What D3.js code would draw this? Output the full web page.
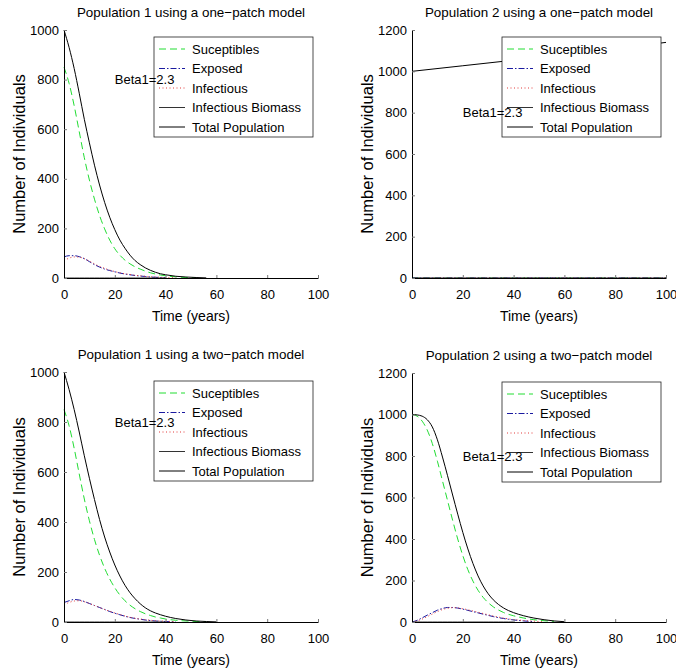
<!DOCTYPE html>
<html>
<head>
<meta charset="utf-8">
<script src="https://cdn.jsdelivr.net/npm/d3@7"></script>
<style>
  body { margin: 0; background: #fff; }
  svg { display: block; font-family: "Liberation Sans", Arial, Helvetica, sans-serif; }
</style>
</head>
<body>
<svg id="chart" width="676" height="670"></svg>
<script>
// time axis (years)
const years = [0, 2, 4, 6, 8, 10, 12, 14, 16, 18, 20, 22, 24, 26, 28, 30, 32, 34, 36, 38, 40, 44, 48, 52, 56, 60, 64];
const yearsLong = [0, 20, 40, 60, 80, 100];

// population 1, one-patch model
const s1One = [850, 785, 695, 590, 485, 395, 318, 252, 198, 153, 118, 92, 72, 57, 45, 36, 28, 21, 16, 12, 9, 4.5, 2, 1, null, null, null];
const e1One = [85, 90, 90, 86, 78, 66, 54, 44, 36, 30, 25, 20, 16, 13, 10, 8, 6, 4, 3, 2, 1, null, null, null, null, null, null];
const i1One = [70, 80, 85, 84, 78, 68, 57, 47, 39, 32, 26, 21, 17, 14, 11, 9, 7, 5, 4, 3, 2, 1, null, null, null, null, null];
const b1One = [0, 0, 0, 0, 0, 0, 0, 0, 0, 0, 0, 0, 0, 0, 0, 0, 0, 0, 0, 0, 0, null, null, null, null, null, null];
const n1One = [1000, 930, 845, 745, 640, 545, 455, 375, 305, 245, 195, 153, 120, 92, 70, 54, 41, 31, 23, 17, 13, 7, 4, 2, 0.5, null, null];

// population 2, one-patch model
const s2One = [0, 0, 0, 0, 0, 0];
const e2One = [0, 0, 0, 0, 0, 0];
const i2One = [0, 0, 0, 0, 0, 0];
const b2One = [0, 0, 0, 0, 0, 0];
const n2One = [1000, 1027, 1054, 1082, 1110, 1140];

// population 1, two-patch model
const s1Two = [850, 785, 695, 592, 492, 405, 330, 267, 215, 172, 137, 108, 85, 67, 53, 42, 33, 26, 20, 16, 12, 7, 4, 2, 1, null, null];
const e1Two = [78, 85, 90, 88, 82, 74, 66, 58, 50, 42, 35, 29, 23, 18, 14, 11, 8, 6, 4, 3, 2, 1, null, null, null, null, null];
const i1Two = [70, 78, 84, 85, 81, 74, 66, 58, 50, 43, 36, 30, 24, 19, 15, 12, 9, 7, 5, 4, 3, 1.5, null, null, null, null, null];
const b1Two = [0, 0, 0, 0, 0, 0, 0, 0, 0, 0, 0, 0, 0, 0, 0, 0, 0, 0, 0, 0, 0, null, null, null, null, null, null];
const n1Two = [1000, 930, 850, 760, 665, 575, 490, 410, 340, 280, 228, 184, 147, 117, 93, 73, 57, 45, 36, 29, 23, 14, 8, 4, 2, 0.5, null];

// population 2, two-patch model
const s2Two = [1000, 992, 968, 925, 860, 775, 680, 585, 490, 400, 320, 252, 197, 153, 119, 93, 73, 58, 46, 37, 30, 19, 11, 6, 3, null, null];
const e2Two = [0, 8, 20, 33, 45, 57, 65, 70, 70, 67, 62, 56, 50, 44, 38, 32, 26, 21, 17, 13, 10, 5, 2, null, null, null, null];
const i2Two = [0, 5, 14, 26, 38, 50, 60, 66, 69, 68, 64, 59, 53, 47, 41, 35, 29, 24, 19, 15, 12, 7, 4, 1, null, null, null];
const b2Two = [0, 0, 0, 0, 0, 0, 0, 0, 0, 0, 0, 0, 0, 0, 0, 0, 0, 0, 0, 0, 0, null, null, null, null, null, null];
const n2Two = [1000, 998, 992, 975, 940, 878, 795, 705, 612, 520, 432, 352, 282, 222, 174, 136, 107, 85, 68, 55, 45, 30, 19, 11, 5, 1.5, null];

const seriesNames = ["Suceptibles", "Exposed", "Infectious", "Infectious Biomass", "Total Population"];
const xTicks = [0, 20, 40, 60, 80, 100];
const yTicks1000 = [0, 200, 400, 600, 800, 1000];
const yTicks1200 = [0, 200, 400, 600, 800, 1000, 1200];
const betaLabel = "Beta1=2.3";

const styles = [
  { color: "#22dd33", dash: "7,4", width: 1 },
  { color: "#1a1aa0", dash: "6,2,1.5,2", width: 1 },
  { color: "#e23a3a", dash: "1,2.5", width: 1 },
  { color: "#333", dash: null, width: 1 },
  { color: "#000", dash: null, width: 1 },
];

const panels = [
  { title: "Population 1 using a one\u2212patch model", x0: 64, top: 30, bottom: 278, yMax: 1000, yTicks: yTicks1000, t: years, data: [s1One, e1One, i1One, b1One, n1One] },
  { title: "Population 2 using a one\u2212patch model", x0: 412, top: 30, bottom: 278, yMax: 1200, yTicks: yTicks1200, t: yearsLong, data: [s2One, e2One, i2One, b2One, n2One] },
  { title: "Population 1 using a two\u2212patch model", x0: 64, top: 372, bottom: 622, yMax: 1000, yTicks: yTicks1000, t: years, data: [s1Two, e1Two, i1Two, b1Two, n1Two] },
  { title: "Population 2 using a two\u2212patch model", x0: 412, top: 373, bottom: 622, yMax: 1200, yTicks: yTicks1200, t: years, data: [s2Two, e2Two, i2Two, b2Two, n2Two] },
];

const svg = d3.select("#chart");
const plotW = 254;

panels.forEach((p) => {
  const g = svg.append("g");
  const x = d3.scaleLinear().domain([0, 100]).range([p.x0, p.x0 + plotW]);
  const y = d3.scaleLinear().domain([0, p.yMax]).range([p.bottom, p.top]);

  // series lines
  p.data.forEach((vals, i) => {
    const pts = p.t.map((t, k) => ({ t, v: vals[k] }));
    const line = d3.line()
      .defined((d) => d.v != null)
      .x((d) => x(d.t))
      .y((d) => y(d.v))
      .curve(d3.curveMonotoneX);
    g.append("path")
      .attr("d", line(pts))
      .attr("fill", "none")
      .attr("stroke", styles[i].color)
      .attr("stroke-width", styles[i].width)
      .attr("stroke-dasharray", styles[i].dash);
  });

  // axes (MATLAB style, box off, inward ticks)
  const xAxis = d3.axisBottom(x).tickValues(xTicks).tickFormat(d3.format("d"))
    .tickSizeInner(-3).tickSizeOuter(0).tickPadding(12);
  const yAxis = d3.axisLeft(y).tickValues(p.yTicks).tickFormat(d3.format("d"))
    .tickSizeInner(-3).tickSizeOuter(0).tickPadding(5);

  const gx = g.append("g").attr("transform", `translate(0,${p.bottom})`).call(xAxis);
  const gy = g.append("g").attr("transform", `translate(${p.x0},0)`).call(yAxis);
  [gx, gy].forEach((ax) => {
    ax.select(".domain").attr("stroke", "#000").attr("stroke-width", 1);
    ax.selectAll(".tick line").attr("stroke", "#777");
    ax.selectAll("text").attr("font-size", 13).attr("font-family", null).attr("fill", "#000");
  });

  g.append("text")
    .attr("x", p.x0 + plotW / 2)
    .attr("y", p.top - 13)
    .attr("text-anchor", "middle")
    .attr("font-size", 13.4)
    .text(p.title);

  g.append("text")
    .attr("x", p.x0 + plotW / 2)
    .attr("y", p.bottom + 43)
    .attr("text-anchor", "middle")
    .attr("font-size", 14)
    .text("Time (years)");

  g.append("text")
    .attr("transform", `translate(${p.x0 - 39},${(p.top + p.bottom) / 2}) rotate(-90)`)
    .attr("text-anchor", "middle")
    .attr("font-size", 16.5)
    .text("Number of Individuals");

  // legend
  const lx = p.x0 + 90;
  const ly = p.top + 7 + (p.top > 300 ? 2 : 0);
  const leg = g.append("g").attr("transform", `translate(${lx},${ly})`);
  leg.append("rect")
    .attr("width", 159)
    .attr("height", 100)
    .attr("fill", "#fff")
    .attr("stroke", "#222")
    .attr("stroke-width", 0.8);
  seriesNames.forEach((name, i) => {
    const cy = 12 + i * 19.5;
    leg.append("line")
      .attr("x1", 5).attr("x2", 31)
      .attr("y1", cy).attr("y2", cy)
      .attr("stroke", styles[i].color)
      .attr("stroke-width", styles[i].width)
      .attr("stroke-dasharray", styles[i].dash);
    leg.append("text")
      .attr("x", 38)
      .attr("y", cy + 4.6)
      .attr("font-size", 13)
      .text(name);
  });

  g.append("text")
    .attr("x", x(20))
    .attr("y", y(800))
    .attr("dy", "0.35em")
    .attr("font-size", 13)
    .text(betaLabel);
});
</script>
</body>
</html>
